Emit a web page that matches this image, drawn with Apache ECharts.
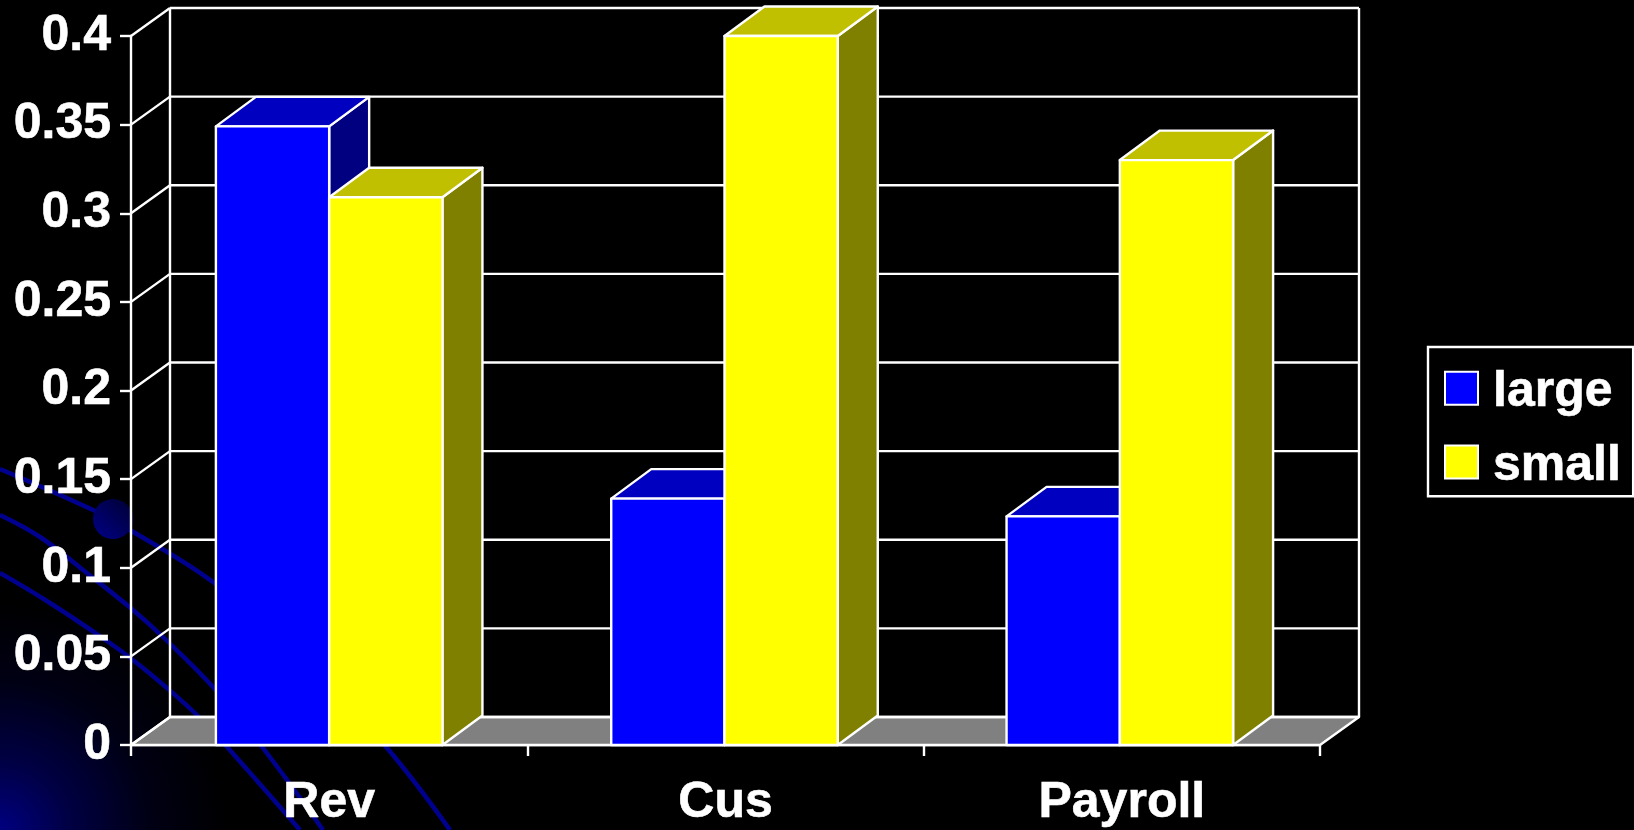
<!DOCTYPE html>
<html>
<head>
<meta charset="utf-8">
<style>html,body{margin:0;padding:0;background:#000}#chart{width:1634px;height:830px}</style>
<script src="https://cdn.jsdelivr.net/npm/echarts@6/dist/echarts.min.js"></script>
</head>
<body>
<div id="chart"></div>
<script>
// Category labels, series values and value-axis ticks
const categories = ['Rev', 'Cus', 'Payroll'];
const largeValues = [0.349, 0.139, 0.129];
const smallValues = [0.309, 0.4, 0.33];
const valueTicks = [0, 0.05, 0.1, 0.15, 0.2, 0.25, 0.3, 0.35, 0.4];

// Oblique projection used for the fake 3D look
const DEPTH_X = 39;
const DEPTH_Y = 28;
const BOX_DEPTH_X = 40;
const BOX_DEPTH_Y = 29.5;
const BAR_SHARE = 0.2858;
const GROUP_PULL = 1;
const LINE = { stroke: '#fff', lineWidth: 2.4 };
const FONT = 'Liberation Sans, Arial, sans-serif';
const labelText = { color: '#fff', fontSize: 50, fontWeight: 'bold', fontFamily: FONT, textBorderColor: '#fff', textBorderWidth: 0.6 };

function poly(points, fill) {
  return { type: 'polygon', shape: { points }, style: { fill, stroke: '#fff', lineWidth: 2.4, lineJoin: 'round' } };
}
function seg(x1, y1, x2, y2) {
  return { type: 'line', shape: { x1, y1, x2, y2 }, style: LINE };
}

// Back wall, side wall and floor, one element group per value tick
function renderWalls(params, api) {
  const cs = params.coordSys;
  const [, y] = api.coord([0, api.value(0)]);
  const left = cs.x, right = cs.x + cs.width;
  const children = [
    seg(left, y, left + DEPTH_X, y - DEPTH_Y),
    seg(left + DEPTH_X, y - DEPTH_Y, right + DEPTH_X, y - DEPTH_Y)
  ];
  if (api.value(0) === valueTicks[0]) {
    const top = cs.y - DEPTH_Y;
    children.unshift(poly([[left, y], [left + DEPTH_X, y - DEPTH_Y], [right + DEPTH_X, y - DEPTH_Y], [right, y]], '#808080'));
    children.push(seg(left + DEPTH_X, y - DEPTH_Y, left + DEPTH_X, top));
    children.push(seg(right + DEPTH_X, y - DEPTH_Y, right + DEPTH_X, top));
  }
  return { type: 'group', children };
}

// A box with front, top and side faces; slot 0 sits left of the category centre, slot 1 right
function boxRenderer(slot, front, topFace, sideFace) {
  return function (params, api) {
    const [cx, yTop] = api.coord([api.value(0), api.value(1)]);
    const [, yBase] = api.coord([api.value(0), 0]);
    const w = api.size([1, 0])[0] * BAR_SHARE;
    const x0 = cx - w + slot * w - api.value(0) * GROUP_PULL, x1 = x0 + w;
    const dx = BOX_DEPTH_X, dy = BOX_DEPTH_Y;
    return {
      type: 'group',
      children: [
        poly([[x1, yTop], [x1 + dx, yTop - dy], [x1 + dx, yBase - dy], [x1, yBase]], sideFace),
        poly([[x0, yTop], [x0 + dx, yTop - dy], [x1 + dx, yTop - dy], [x1, yTop]], topFace),
        poly([[x0, yTop], [x1, yTop], [x1, yBase], [x0, yBase]], front)
      ]
    };
  };
}

// Slide theme behind the chart: corner glow, sweeping arcs and a small disc
const arcStyle = { fill: null, stroke: '#00008f', lineWidth: 4.5 };
const arcs = [
  [[0, 469], [93, 510], [130, 530], [213, 582], [300, 655], [387, 748], [450, 830]],
  [[0, 515], [40, 537], [83, 570], [133, 610], [163, 637], [213, 687], [263, 748], [323, 830]],
  [[0, 573], [50, 603], [107, 641], [133, 660], [167, 688], [200, 718], [228, 748], [300, 830]]
];
const backdrop = [
  {
    type: 'rect', z: -3, silent: true,
    shape: { x: 0, y: 560, width: 280, height: 270 },
    style: {
      fill: {
        type: 'radial', x: 0, y: 1, r: 0.85,
        colorStops: [
          { offset: 0, color: '#000080' },
          { offset: 0.3, color: '#000044' },
          { offset: 0.65, color: '#000014' },
          { offset: 1, color: '#000000' }
        ]
      }
    }
  },
  ...arcs.map(points => ({
    type: 'polyline', z: -2, silent: true,
    shape: { points, smooth: 0.4 }, style: arcStyle
  })),
  {
    type: 'circle', z: -1, silent: true,
    shape: { cx: 113, cy: 519, r: 20 },
    style: {
      fill: {
        type: 'linear', x: 0, y: 1, x2: 1, y2: 0,
        colorStops: [{ offset: 0, color: '#000088' }, { offset: 1, color: '#000030' }]
      }
    }
  }
];

const tickLine = { show: true, length: 11, lineStyle: { color: '#fff', width: 2.4 } };

const option = {
  animation: false,
  backgroundColor: '#000',
  graphic: { elements: backdrop },
  grid: { left: 131, right: 314, top: 36, bottom: 85 },
  legend: {
    data: ['large', 'small'],
    orient: 'vertical',
    left: 1428,
    top: 347,
    padding: [20, 12, 5, 16],
    itemWidth: 33,
    itemHeight: 33,
    itemGap: 23,
    itemStyle: { borderColor: '#fff', borderWidth: 2 },
    borderColor: '#fff',
    borderWidth: 2.4,
    icon: 'rect',
    selectedMode: false,
    formatter: '{t|{name}}',
    textStyle: {
      rich: { t: Object.assign({}, labelText, { padding: [8, 0, 0, 10] }) }
    }
  },
  xAxis: {
    type: 'category',
    data: categories,
    axisLine: { show: true, lineStyle: { color: '#fff', width: 2.4 } },
    axisTick: tickLine,
    axisLabel: Object.assign({}, labelText, { margin: 33 }),
    splitLine: { show: false }
  },
  yAxis: {
    type: 'value',
    min: 0,
    max: 0.4,
    interval: 0.05,
    axisLine: { show: true, lineStyle: { color: '#fff', width: 2.4 } },
    axisTick: tickLine,
    axisLabel: Object.assign({}, labelText, { margin: 20 }),
    splitLine: { show: false }
  },
  series: [
    {
      name: 'walls',
      type: 'custom',
      z: 1,
      silent: true,
      clip: false,
      renderItem: renderWalls,
      encode: { y: 0 },
      data: valueTicks.map(v => [v])
    },
    {
      name: 'large',
      type: 'custom',
      z: 2,
      clip: false,
      itemStyle: { color: '#0000ff', borderColor: '#fff', borderWidth: 2 },
      renderItem: boxRenderer(0, '#0000ff', '#0000c0', '#000080'),
      encode: { x: 0, y: 1 },
      data: largeValues.map((v, i) => [i, v])
    },
    {
      name: 'small',
      type: 'custom',
      z: 2,
      clip: false,
      itemStyle: { color: '#ffff00', borderColor: '#fff', borderWidth: 2 },
      renderItem: boxRenderer(1, '#ffff00', '#c0c000', '#808000'),
      encode: { x: 0, y: 1 },
      data: smallValues.map((v, i) => [i, v])
    }
  ]
};

echarts.init(document.getElementById('chart'), null, { renderer: 'canvas' }).setOption(option);
</script>
</body>
</html>
